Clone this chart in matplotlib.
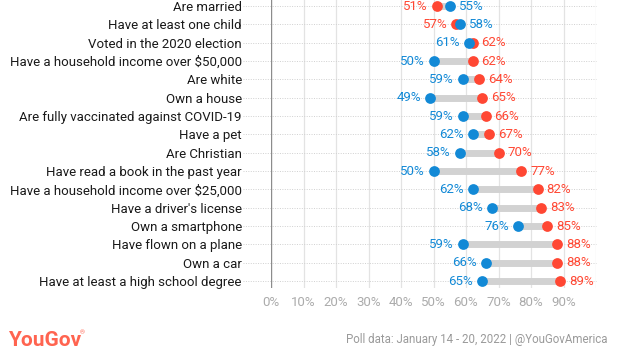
import numpy as np
import matplotlib.pyplot as plt
import matplotlib.transforms as mtransforms

plt.rcParams['font.family'] = ['Roboto', 'DejaVu Sans']

# categories, top to bottom
categories = [
    'Are married',
    'Have at least one child',
    'Voted in the 2020 election',
    'Have a household income over $50,000',
    'Are white',
    'Own a house',
    'Are fully vaccinated against COVID-19',
    'Have a pet',
    'Are Christian',
    'Have read a book in the past year',
    'Have a household income over $25,000',
    "Have a driver's license",
    'Own a smartphone',
    'Have flown on a plane',
    'Own a car',
    'Have at least a high school degree',
]
blue_vals = [55, 58, 61, 50, 59, 49, 59, 62, 58, 50, 62, 68, 76, 59, 66, 65]
red_vals = [51, 57, 62, 62, 64, 65, 66, 67, 70, 77, 82, 83, 85, 88, 88, 89]
xticks = [0, 10, 20, 30, 40, 50, 60, 70, 80, 90]

BLUE = '#1289d6'
RED = '#ff4733'

fig = plt.figure(figsize=(6.17, 3.57), dpi=100)
ax = fig.add_axes([271 / 617, 1 - 288 / 357, 325 / 617, 288 / 357])

n = len(categories)
ypos = np.arange(n)[::-1]

# light grid + darker zero line
for g in range(10, 101, 10):
    ax.axvline(g, color='#e3e3e3', lw=0.9, zorder=0)
ax.axvline(0, color='#8c8c8c', lw=1.0, zorder=1)

# dotted row guides that run under the labels
trans = mtransforms.blended_transform_factory(ax.transAxes, ax.transData)
for y in ypos:
    ax.plot([-0.086, 1.0], [y, y], transform=trans, color='#d0d0d0', lw=0.7,
            ls=(0, (1, 1.5)), clip_on=False, zorder=0)

for y, b, r in zip(ypos, blue_vals, red_vals):
    ax.plot([min(b, r), max(b, r)], [y, y], color='#d2d2d2', lw=5,
            solid_capstyle='butt', zorder=2)
    ax.scatter([r], [y], s=60, color=RED, zorder=3, linewidths=0)
    ax.scatter([b], [y], s=60, color=BLUE, zorder=4, linewidths=0)
    lo_v, lo_c, hi_v, hi_c = (b, BLUE, r, RED) if b <= r else (r, RED, b, BLUE)
    ax.annotate(f'{lo_v}%', (lo_v, y), xytext=(-6.5, 0), textcoords='offset points',
                ha='right', va='center', color=lo_c, fontsize=9.5)
    ax.annotate(f'{hi_v}%', (hi_v, y), xytext=(6.5, 0), textcoords='offset points',
                ha='left', va='center', color=hi_c, fontsize=9.5)

ax.set_xlim(0, 100)
ax.set_ylim(-0.38, 15.33)
ax.set_xticks(xticks)
ax.set_xticklabels([f'{t}%' for t in xticks], color='#ababab', fontsize=9.5)
ax.set_yticks(ypos)
ax.set_yticklabels(categories, fontsize=9.5, color='#1a1a1a')
ax.tick_params(axis='both', length=0)
ax.tick_params(axis='y', pad=21)
ax.tick_params(axis='x', pad=6)
for s in ax.spines.values():
    s.set_visible(False)

fig.text(8 / 617, 1 - 340 / 357, 'YouGov', color='#ff6450', fontsize=15,
         fontweight='bold', ha='left', va='center')
fig.text(80 / 617, 1 - 333 / 357, '®', color='#ff6450', fontsize=4.5,
         ha='left', va='center')
fig.text(608 / 617, 1 - 340 / 357, 'Poll data: January 14 - 20, 2022 | @YouGovAmerica',
         color='#9a9a9a', fontsize=8.3, ha='right', va='center')

fig.savefig('out.png', dpi=100)
